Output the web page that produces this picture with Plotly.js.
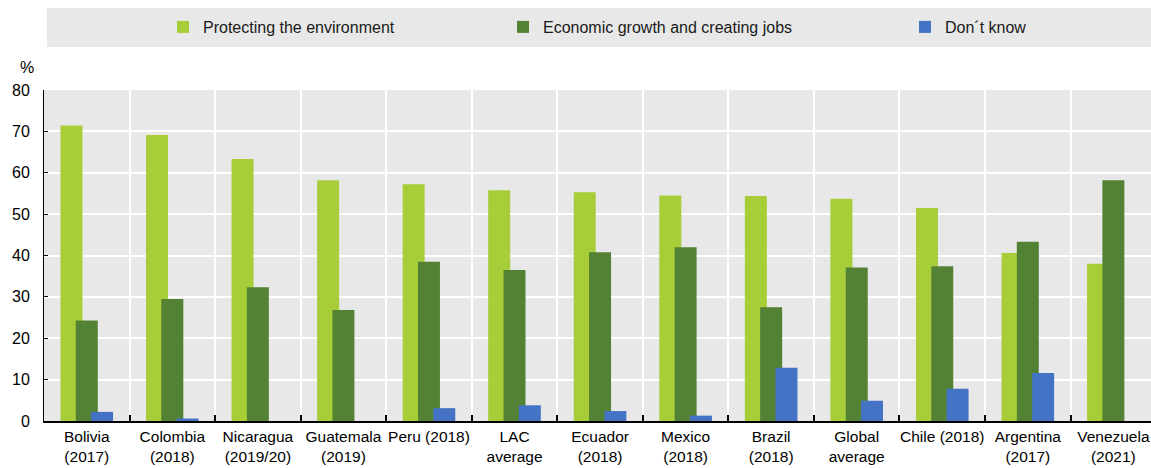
<!DOCTYPE html>
<html>
<head>
<meta charset="utf-8">
<script src="https://cdn.plot.ly/plotly-3.0.1.min.js"></script>
<style>html,body{margin:0;padding:0;background:#fff;}#chart{width:1151px;height:468px;}</style>
</head>
<body>
<div id="chart"></div>
<script>
const categories = ["Bolivia<br>(2017)", "Colombia<br>(2018)", "Nicaragua<br>(2019/20)", "Guatemala<br>(2019)", "Peru (2018)", "LAC<br>average", "Ecuador<br>(2018)", "Mexico<br>(2018)", "Brazil<br>(2018)", "Global<br>average", "Chile (2018)", "Argentina<br>(2017)", "Venezuela<br>(2021)"];
const environment = [71.4, 69.1, 63.3, 58.2, 57.2, 55.8, 55.3, 54.5, 54.4, 53.7, 51.5, 40.6, 38.0];
const growthJobs = [24.3, 29.5, 32.3, 26.8, 38.5, 36.5, 40.8, 42.0, 27.5, 37.1, 37.4, 43.3, 58.2];
const dontKnow = [2.2, 0.6, 0, 0, 3.1, 3.8, 2.4, 1.3, 12.9, 4.9, 7.8, 11.6, 0];
const seriesNames = ["Protecting the environment", "Economic growth and creating jobs", "Don\u00b4t know"];
const yTicks = [0, 10, 20, 30, 40, 50, 60, 70, 80];

const FONT = "'Liberation Sans', Arial, sans-serif";
const colors = ["#A7CE39", "#548235", "#4472C4"];
const barW = 0.257;
const offsets = [-0.3075, -0.1285, 0.0505];
const vals = [environment, growthJobs, dontKnow];
const legendIds = ["legend", "legend2", "legend3"];

const traces = vals.map((v, i) => ({
  type: "bar",
  name: seriesNames[i],
  x: categories,
  y: v,
  width: barW,
  offset: offsets[i],
  marker: {color: colors[i], line: {width: 0}},
  legend: legendIds[i],
  hoverinfo: "skip"
}));

const W = 1151, ml = 44, plotTop = 90, plotBot = 421;
const pw = W - ml, ph = plotBot - plotTop;
const px2x = p => (p - ml) / pw;
const py2y = p => (plotBot - p) / ph;

function legendAt(px) {
  return {
    x: px2x(px), xanchor: "left", y: py2y(27), yanchor: "middle",
    orientation: "h", bgcolor: "rgba(0,0,0,0)", borderwidth: 0,
    font: {family: FONT, size: 16, color: "#1a1a1a"},
    itemwidth: 30, itemclick: false, itemdoubleclick: false
  };
}

const layout = {
  width: W, height: 468,
  margin: {l: ml, r: 0, t: plotTop, b: 468 - plotBot},
  paper_bgcolor: "#ffffff",
  plot_bgcolor: "#e8e8e8",
  font: {family: FONT, size: 16, color: "#000"},
  barmode: "overlay",
  showlegend: true,
  legend: legendAt(163),
  legend2: legendAt(503),
  legend3: legendAt(905),
  xaxis: {
    type: "category",
    range: [-0.5, 12.44],
    tickson: "boundaries",
    ticks: "inside", ticklen: 6, tickwidth: 2, tickcolor: "#000",
    tickangle: 0,
    showgrid: true, gridcolor: "#ffffff", gridwidth: 2,
    showline: true, linecolor: "#000", linewidth: 2,
    tickfont: {family: FONT, size: 15.5, color: "#000"},
    fixedrange: true
  },
  yaxis: {
    range: [0, 80],
    tickvals: yTicks,
    ticktext: yTicks.map(String),
    ticks: "inside", ticklen: 4, tickwidth: 1, tickcolor: "#000",
    showgrid: true, gridcolor: "#ffffff", gridwidth: 2,
    zeroline: false,
    showline: true, linecolor: "#000", linewidth: 1,
    ticklabelstandoff: 10,
    tickfont: {family: FONT, size: 16, color: "#000"},
    fixedrange: true
  },
  shapes: [{
    type: "rect", xref: "paper", yref: "paper",
    x0: px2x(47), x1: 1.0, y0: py2y(47), y1: py2y(8),
    fillcolor: "#e8e8e8", line: {width: 0}, layer: "below"
  }],
  annotations: [{
    text: "%", xref: "paper", yref: "paper", x: px2x(27), y: py2y(67),
    xanchor: "center", yanchor: "middle", showarrow: false,
    font: {family: FONT, size: 16, color: "#000"}
  }]
};

Plotly.newPlot("chart", traces, layout, {displayModeBar: false, staticPlot: true});
</script>
</body>
</html>
